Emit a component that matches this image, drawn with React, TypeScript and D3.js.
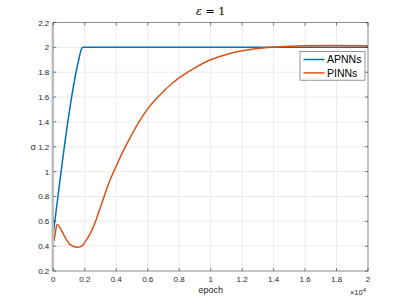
import React from 'react'
import * as d3 from 'd3'

const apnnEpoch = [0, 1650, 1780, 1900, 20000]
const apnnSigma = [0.5, 1.92, 1.985, 2.0, 2.0]

const pinnEpoch = [0, 40, 120, 260, 500, 800, 1100, 1500, 1800, 2000, 2300, 2540, 2850, 3175, 3600, 4000, 4400, 4870, 5400, 6000, 6500, 7000, 7500, 8000, 9000, 10000, 11000, 12000, 13000, 14000, 15000, 16000, 18000, 20000]
const pinnSigma = [0.5, 0.44, 0.5, 0.575, 0.53, 0.46, 0.41, 0.392, 0.4, 0.43, 0.49, 0.553, 0.66, 0.78, 0.93, 1.045, 1.155, 1.27, 1.39, 1.505, 1.58, 1.645, 1.705, 1.755, 1.835, 1.9, 1.943, 1.972, 1.99, 2.002, 2.009, 2.013, 2.015, 2.012]

const xTicks = [0, 2000, 4000, 6000, 8000, 10000, 12000, 14000, 16000, 18000, 20000]
const xTickLabels = ['0', '0.2', '0.4', '0.6', '0.8', '1', '1.2', '1.4', '1.6', '1.8', '2']
const yTicks = [0.2, 0.4, 0.6, 0.8, 1, 1.2, 1.4, 1.6, 1.8, 2, 2.2]
const yTickLabels = ['0.2', '0.4', '0.6', '0.8', '1', '1.2', '1.4', '1.6', '1.8', '2', '2.2']

const seriesNames = ['APNNs', 'PINNs']
const colors = ['#0072BD', '#D95319']

export default function App() {
  const width = 407
  const height = 305
  const margin = { top: 22.5, right: 39, bottom: 34, left: 53.3 }
  const innerWidth = width - margin.left - margin.right
  const innerHeight = height - margin.top - margin.bottom

  const xScale = d3.scaleLinear().domain([0, 20000]).range([0, innerWidth])
  const yScale = d3.scaleLinear().domain([0.2, 2.2]).range([innerHeight, 0])

  const apnnLine = d3.line<[number, number]>()
    .x(d => xScale(d[0]))
    .y(d => yScale(d[1]))
    .curve(d3.curveMonotoneX)
  const pinnLine = d3.line<[number, number]>()
    .x(d => xScale(d[0]))
    .y(d => yScale(d[1]))
    .curve(d3.curveCatmullRom.alpha(0.5))

  const apnn = apnnEpoch.map((e, i) => [e, apnnSigma[i]] as [number, number])
  const pinn = pinnEpoch.map((e, i) => [e, pinnSigma[i]] as [number, number])

  const font = 'Liberation Sans, Arial, sans-serif'
  const tickColor = '#262626'

  return (
    <svg width={width} height={height} style={{ position: 'absolute', left: 0, top: 0, background: '#fff' }}>
      <g transform={`translate(${margin.left},${margin.top})`}>
        {xTicks.map(t => (
          <line key={'gx' + t} x1={xScale(t)} x2={xScale(t)} y1={0} y2={innerHeight} stroke="#e6e6e6" strokeWidth={0.8} />
        ))}
        {yTicks.map(t => (
          <line key={'gy' + t} x1={0} x2={innerWidth} y1={yScale(t)} y2={yScale(t)} stroke="#e6e6e6" strokeWidth={0.8} />
        ))}

        <path d={apnnLine(apnn) || ''} fill="none" stroke={colors[0]} strokeWidth={1.5} />
        <path d={pinnLine(pinn) || ''} fill="none" stroke={colors[1]} strokeWidth={1.5} />

        <rect x={0} y={0} width={innerWidth} height={innerHeight} fill="none" stroke="#7a7a7a" strokeWidth={0.8} />
        <line x1={-0.5} x2={-0.5} y1={0} y2={innerHeight} stroke="#bcbcbc" strokeWidth={2.5} />

        {xTicks.map((t, i) => (
          <g key={'tx' + t}>
            <line x1={xScale(t)} x2={xScale(t)} y1={innerHeight} y2={innerHeight - 3} stroke={tickColor} strokeWidth={0.6} />
            <line x1={xScale(t)} x2={xScale(t)} y1={0} y2={3} stroke={tickColor} strokeWidth={0.6} />
            <text x={xScale(t)} y={innerHeight + 11} textAnchor="middle" fontSize={8} fontFamily={font} fill={tickColor}>{xTickLabels[i]}</text>
          </g>
        ))}
        {yTicks.map((t, i) => (
          <g key={'ty' + t}>
            <line x1={0} x2={3} y1={yScale(t)} y2={yScale(t)} stroke={tickColor} strokeWidth={0.6} />
            <line x1={innerWidth} x2={innerWidth - 3} y1={yScale(t)} y2={yScale(t)} stroke={tickColor} strokeWidth={0.6} />
            <text x={-4} y={yScale(t) + 3} textAnchor="end" fontSize={8} fontFamily={font} fill={tickColor}>{yTickLabels[i]}</text>
          </g>
        ))}

        <text x={innerWidth / 2} y={innerHeight + 22} textAnchor="middle" fontSize={9} fontFamily={font} fill={tickColor}>epoch</text>
        <text x={innerWidth - 18} y={innerHeight + 24} fontSize={7.5} fontFamily={font} fill={tickColor}>
          ×10<tspan dy={-3} fontSize={6}>4</tspan>
        </text>
        <text x={-20} y={yScale(1.2) + 3} textAnchor="middle" fontSize={9} fontFamily={font} fill={tickColor}>σ</text>

        <text x={innerWidth / 2} y={-8} textAnchor="middle" fontSize={11} fontFamily="DejaVu Serif, serif" fill="#000">
          <tspan fontStyle="italic">ε</tspan> = 1
        </text>

        <g transform={`translate(${innerWidth - 68}, 29)`}>
          <rect x={0} y={0} width={65} height={28.7} fill="#fff" stroke="#7a7a7a" strokeWidth={0.8} />
          {seriesNames.map((name, i) => (
            <g key={name} transform={`translate(0, ${8 + i * 13.4})`}>
              <line x1={3.5} x2={24.5} y1={0} y2={0} stroke={colors[i]} strokeWidth={1.5} />
              <text x={27} y={3.7} fontSize={10.5} fontFamily={font} fill="#000">{name}</text>
            </g>
          ))}
        </g>
      </g>
    </svg>
  )
}
